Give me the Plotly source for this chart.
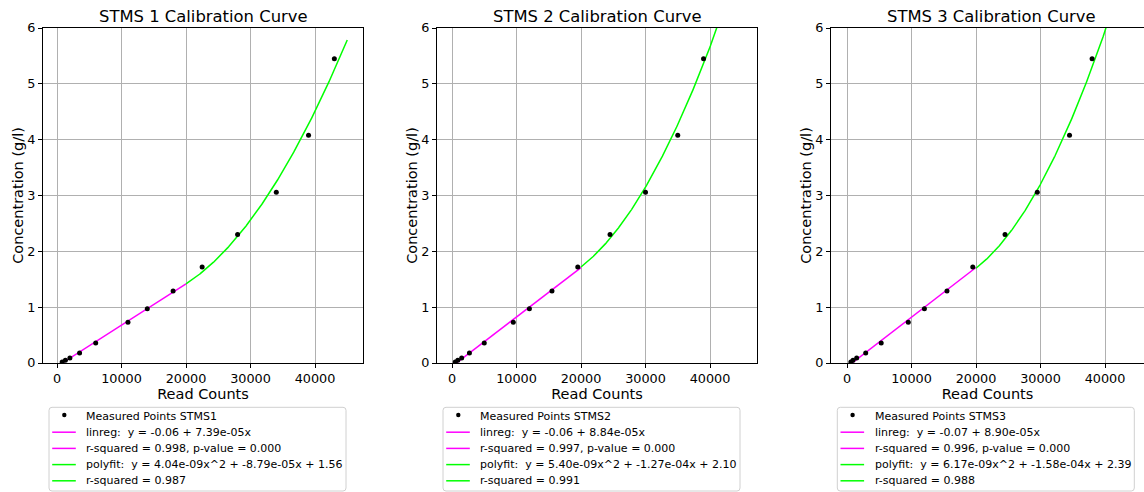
import numpy as np
import plotly.graph_objects as go
from plotly.subplots import make_subplots

# ---- Data ----
conc = [0.02, 0.05, 0.09, 0.18, 0.36, 0.73, 0.97, 1.29, 1.72, 2.30, 3.06, 4.08, 5.45]
counts_1 = [800, 1300, 2000, 3500, 6000, 11000, 14000, 18000, 22500, 28000, 34000, 39000, 43000]
counts_2 = [500, 900, 1500, 2700, 5000, 9500, 12000, 15500, 19500, 24500, 30000, 35000, 39000]
counts_3 = [600, 930, 1500, 2900, 5300, 9500, 12000, 15500, 19500, 24500, 29500, 34500, 38000]

# fit coefficients shown in the legends
lin_1 = (-0.06, 7.39e-05)
lin_2 = (-0.06, 8.84e-05)
lin_3 = (-0.07, 8.90e-05)
poly_1 = (4.04e-09, -8.79e-05, 1.56)
poly_2 = (5.40e-09, -1.27e-04, 2.10)
poly_3 = (6.17e-09, -1.58e-04, 2.39)
r2_lin = [0.998, 0.997, 0.996]
p_lin = [0.000, 0.000, 0.000]
r2_poly = [0.987, 0.991, 0.988]
split_x = 20000
max_x = 45000

titles = ["STMS 1 Calibration Curve", "STMS 2 Calibration Curve", "STMS 3 Calibration Curve"]
names = ["STMS1", "STMS2", "STMS3"]
x_ticks = [0, 10000, 20000, 30000, 40000]
y_ticks = [0, 1, 2, 3, 4, 5, 6]

W, H = 1144, 492
FONT = "DejaVu Sans"
MAGENTA = "#ff00ff"
LIME = "#00ff00"

fig = make_subplots(rows=1, cols=3, horizontal_spacing=0.05)

counts_all = [counts_1, counts_2, counts_3]
lins = [lin_1, lin_2, lin_3]
polys = [poly_1, poly_2, poly_3]

legend_texts = []
for i in range(3):
    cx = counts_all[i]
    b0, b1 = lins[i]
    a2, a1, a0 = polys[i]
    xl = np.linspace(min(cx), split_x, 100)
    xp = np.linspace(split_x, max_x, 300)
    fig.add_trace(go.Scatter(x=xl, y=b0 + b1 * xl, mode="lines",
                             line=dict(color=MAGENTA, width=1.5), hoverinfo="skip"), row=1, col=i + 1)
    fig.add_trace(go.Scatter(x=xp, y=a2 * xp ** 2 + a1 * xp + a0, mode="lines",
                             line=dict(color=LIME, width=1.5), hoverinfo="skip"), row=1, col=i + 1)
    fig.add_trace(go.Scatter(x=cx, y=conc, mode="markers",
                             marker=dict(color="black", size=5)), row=1, col=i + 1)
    legend_texts.append([
        ("dot", "black", f"Measured Points {names[i]}"),
        ("line", MAGENTA, f"linreg:  y = {b0:.2f} + {b1:.2e}x"),
        ("line", MAGENTA, f"r-squared = {r2_lin[i]:.3f}, p-value = {p_lin[i]:.3f}"),
        ("line", LIME, f"polyfit:  y = {a2:.2e}x^2 + {a1:.2e}x + {a0:.2f}"),
        ("line", LIME, f"r-squared = {r2_poly[i]:.3f}"),
    ])

# plot geometry (pixels)
px_left = [43, 437, 831]
px_right = [363, 757, 1144]
x_ranges = [[-2171, 47442], [-2326, 47287], [-2481, 46047]]
top, bottom = 28, 363


def PX(x):
    return x / W


def PY(y):
    return (bottom - y) / (bottom - top)


for i in range(3):
    dom = [px_left[i] / W, px_right[i] / W]
    xa = dict(domain=dom, range=x_ranges[i], tickvals=x_ticks, ticktext=[str(v) for v in x_ticks],
              showgrid=True, gridcolor="#b0b0b0", gridwidth=0.8, zeroline=False,
              showline=True, linecolor="black", linewidth=1, mirror=True,
              ticks="outside", ticklen=4, tickcolor="black",
              tickfont=dict(family=FONT, size=12.8, color="black"),
              title=dict(text="Read Counts", font=dict(family=FONT, size=14.5, color="black"), standoff=0))
    ya = dict(range=[0, 6], tickvals=y_ticks, showgrid=True, gridcolor="#b0b0b0", gridwidth=0.8,
              zeroline=False, showline=True, linecolor="black", linewidth=1,
              mirror=(i < 2), ticks="outside", ticklen=4, tickcolor="black",
              tickfont=dict(family=FONT, size=12.8, color="black"),
              title=dict(text="Concentration (g/l)", font=dict(family=FONT, size=14.5, color="black"),
                         standoff=0))
    fig.update_xaxes(xa, row=1, col=i + 1)
    fig.update_yaxes(ya, row=1, col=i + 1)

annotations = []
shapes = []
# subplot titles
title_centers = [203, 597, 991]
for i in range(3):
    annotations.append(dict(text=titles[i], x=PX(title_centers[i]), y=PY(16.5), xref="paper", yref="paper",
                            xanchor="center", yanchor="middle", showarrow=False,
                            font=dict(family=FONT, size=16.4, color="black")))

# manual legends (matplotlib style boxes)
box_left = [49, 443, 837.3]
box_w, box_top, box_bot = 297, 407.3, 491
rows_y = [416, 432.2, 448.4, 464.6, 480.8]
r = 3
for i in range(3):
    L, R, T, B = box_left[i], box_left[i] + box_w, box_top, box_bot
    path = (f"M {PX(L + r)},{PY(T)} L {PX(R - r)},{PY(T)} Q {PX(R)},{PY(T)} {PX(R)},{PY(T + r)} "
            f"L {PX(R)},{PY(B - r)} Q {PX(R)},{PY(B)} {PX(R - r)},{PY(B)} "
            f"L {PX(L + r)},{PY(B)} Q {PX(L)},{PY(B)} {PX(L)},{PY(B - r)} "
            f"L {PX(L)},{PY(T + r)} Q {PX(L)},{PY(T)} {PX(L + r)},{PY(T)} Z")
    shapes.append(dict(type="path", path=path, xref="paper", yref="paper",
                       line=dict(color="#d0d0d0", width=1), fillcolor="rgba(255,255,255,0.8)", layer="above"))
    for j, (kind, col, txt) in enumerate(legend_texts[i]):
        yy = rows_y[j]
        if kind == "dot":
            cxp = L + 15.3
            shapes.append(dict(type="circle", xref="paper", yref="paper",
                               x0=PX(cxp - 2.2), x1=PX(cxp + 2.2), y0=PY(yy - 1 + 2.2), y1=PY(yy - 1 - 2.2),
                               fillcolor="black", line=dict(width=0), layer="above"))
        else:
            shapes.append(dict(type="line", xref="paper", yref="paper",
                               x0=PX(L + 3.2), x1=PX(L + 26.8), y0=PY(yy), y1=PY(yy),
                               line=dict(color=col, width=1.5), layer="above"))
        annotations.append(dict(text=txt, x=PX(L + 35.3), y=PY(yy), xref="paper", yref="paper",
                                xanchor="left", yanchor="middle", showarrow=False,
                                font=dict(family=FONT, size=11, color="black")))

fig.update_layout(
    width=W, height=H,
    margin=dict(l=0, r=0, t=top, b=H - bottom),
    paper_bgcolor="white", plot_bgcolor="white",
    showlegend=False,
    annotations=annotations,
    shapes=shapes,
)

fig.write_html("out.html")
